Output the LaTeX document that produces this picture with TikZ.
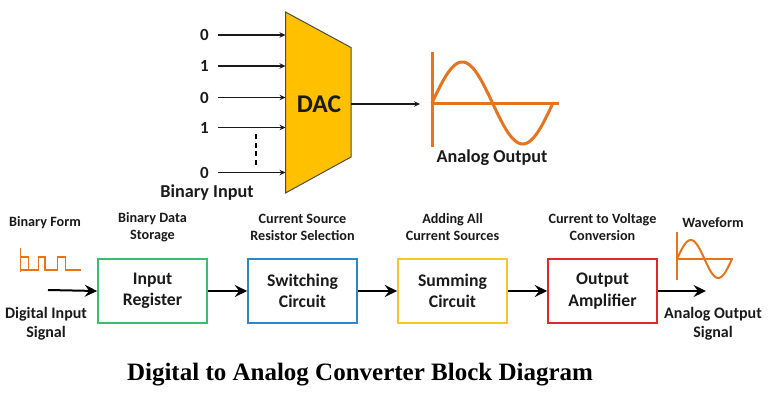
\documentclass[tikz,border=0pt]{standalone}
\usepackage{fontspec}
\setmainfont{Carlito}
\newfontfamily\titlefont{Liberation Serif}
\usetikzlibrary{arrows.meta}
\definecolor{dacfill}{HTML}{FFC000}
\definecolor{wave}{HTML}{E5741E}
\definecolor{boxgreen}{HTML}{3DBB6E}
\definecolor{boxblue}{HTML}{2F86C6}
\definecolor{boxyellow}{HTML}{F2C72C}
\definecolor{boxred}{HTML}{E0282C}
\definecolor{txt}{HTML}{1A1A1A}
\tikzset{
  lbl/.style={font=\bfseries\fontsize{14.2}{17}\selectfont, text=txt, align=center, inner sep=0pt},
  sidelbl/.style={font=\bfseries\fontsize{16}{19}\selectfont, text=txt, align=center, inner sep=0pt},
  biglbl/.style={font=\bfseries\fontsize{18.2}{21}\selectfont, text=txt, align=center, inner sep=0pt},
  bit/.style={font=\bfseries\fontsize{17}{20}\selectfont, text=txt, inner sep=0pt},
  blk/.style={draw, line width=1.6pt, minimum width=109pt, minimum height=64pt, inner sep=0pt,
     align=center, font=\bfseries\fontsize{17.7}{21.5}\selectfont, text=txt},
  thinarrow/.style={line width=1.3pt, draw=txt, -{Stealth[length=6pt,width=5.5pt]}},
  flow/.style={line width=2pt, draw=black, -{Stealth[length=12.5pt,width=12pt,inset=4.5pt]}},
  wavel/.style={draw=wave, line width=3pt, line cap=round, line join=round},
}
\begin{document}
\begin{tikzpicture}[x=1pt,y=-1pt]
\useasboundingbox (0,0) rectangle (768,407);
% DAC trapezoid
\coordinate (tl) at (285.5,12);
\coordinate (tr) at (351,47.5);
\coordinate (br) at (351,157);
\coordinate (bl) at (285.5,193);
\filldraw[fill=dacfill, draw=black!70, line width=1pt] (tl) -- (tr) -- (br) -- (bl) -- cycle;
\node[font=\bfseries\fontsize{25.5}{28}\selectfont, text=txt, inner sep=0pt] (dac) at (319,104) {DAC};
% inputs
\foreach \y/\b/\n in {35/0/a,66/1/b,97.5/0/c,127.5/1/d,172.5/0/e}{
  \node[bit] (bit\n) at (204.5,\y) {\b};
  \coordinate (in\n) at (285.5,\y);
  \coordinate (st\n) at (217.5,\y);
  \draw[thinarrow] (st\n) -- (in\n);
}
\coordinate (dtop) at (256,134);
\coordinate (dbot) at (256,165);
\draw[line width=1.3pt, dash pattern=on 5pt off 3.5pt] (dtop) -- (dbot);
\node[biglbl] (binin) at (207,193) {Binary Input};
% output
\coordinate (dacout) at (351,104);
\coordinate (waveax) at (420,104);
\draw[thinarrow] (dacout) -- (waveax);
% big sine
\coordinate (v1) at (432,52);
\coordinate (v2) at (432,147);
\coordinate (h1) at (432,103);
\coordinate (h2) at (559,103);
\draw[wavel, line cap=butt] (v1) -- (v2);
\draw[wavel, line cap=butt] (h1) -- (h2);
\draw[wavel] plot[domain=0:360, samples=80] ({432+\x/360*121},{103-41*sin(\x)});
\node[biglbl] (aout) at (492,158) {Analog Output};
% bottom row
\node[lbl] (bform) at (45,223) {Binary Form};
\draw[draw=wave, line width=1.4pt, line join=miter]
  (20.7,248) -- (20.7,272);
\draw[draw=wave, line width=1.4pt, line join=miter]
  (20.7,257) -- (28.3,257) -- (28.3,270) -- (38.3,270) -- (38.3,257) -- (45,257) -- (45,270)
  -- (57.3,270) -- (57.3,257) -- (65.7,257) -- (65.7,270) -- (80.7,270);
\draw[draw=wave, line width=1.4pt] (20.7,270) -- (28.3,270);
\coordinate (sigin) at (48,290);
\node[sidelbl] (dis) at (46,323.5) {Digital Input\\Signal};

\node[blk, draw=boxgreen] (reg) at (152.5,291) {Input\\Register};
\node[blk, draw=boxblue] (sw) at (302.5,291) {Switching\\Circuit};
\node[blk, draw=boxyellow] (sum) at (452.5,291) {Summing\\Circuit};
\node[blk, draw=boxred] (amp) at (602.5,291) {Output\\Amplifier};

\node[lbl] (l1) at (152.5,227.5) {Binary Data\\Storage};
\node[lbl] (l2) at (302.5,227.5) {Current Source\\Resistor Selection};
\node[lbl] (l3) at (452.5,227.5) {Adding All\\Current Sources};
\node[lbl] (l4) at (602.5,227.5) {Current to Voltage\\Conversion};

\draw[flow] (sigin) -- (reg.west);
\draw[flow] (reg.east) -- (sw.west);
\draw[flow] (sw.east) -- (sum.west);
\draw[flow] (sum.east) -- (amp.west);
\coordinate (sigout) at (706,291);
\draw[flow] (amp.east) -- (sigout);

\node[lbl] (wf) at (713,223) {Waveform};
\draw[draw=wave, line width=2pt] (677,232) -- (677,280);
\draw[draw=wave, line width=2pt] (677,259) -- (733,259);
\draw[draw=wave, line width=2pt] plot[domain=0:360, samples=60] ({677+\x/360*55},{259-19*sin(\x)});
\node[sidelbl] (aos) at (713,323.5) {Analog Output\\Signal};

\node[font=\titlefont\bfseries\fontsize{25}{28}\selectfont, inner sep=0pt] (title) at (360,375) {Digital to Analog Converter Block Diagram};
\end{tikzpicture}
\end{document}
